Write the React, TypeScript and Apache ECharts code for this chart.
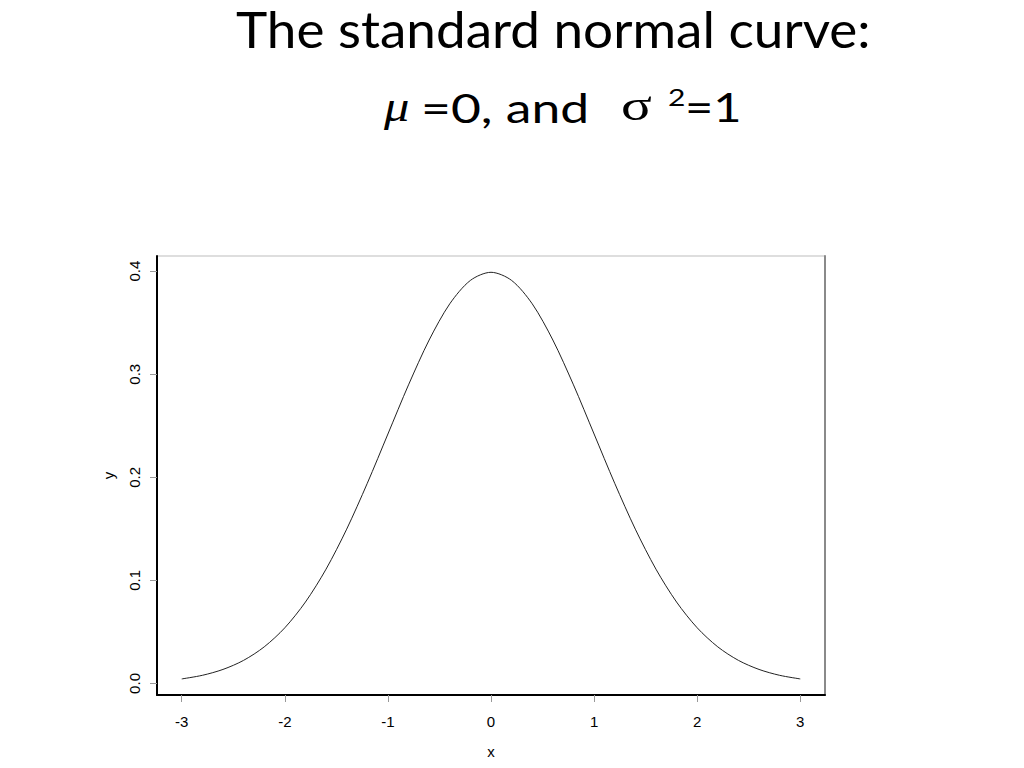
import React, { useEffect, useRef } from "react";
import * as echarts from "echarts";

const xValues = [-3, -2.8, -2.6, -2.4, -2.2, -2, -1.8, -1.6, -1.4, -1.2, -1, -0.8, -0.6, -0.4, -0.2, 0, 0.2, 0.4, 0.6, 0.8, 1, 1.2, 1.4, 1.6, 1.8, 2, 2.2, 2.4, 2.6, 2.8, 3];
const yValues = [0.0044, 0.0079, 0.0136, 0.0224, 0.0355, 0.054, 0.079, 0.1109, 0.1497, 0.1942, 0.242, 0.2897, 0.3332, 0.3683, 0.391, 0.3989, 0.391, 0.3683, 0.3332, 0.2897, 0.242, 0.1942, 0.1497, 0.1109, 0.079, 0.054, 0.0355, 0.0224, 0.0136, 0.0079, 0.0044];
const xTicks = [-3, -2, -1, 0, 1, 2, 3];
const yTicks = [0, 0.1, 0.2, 0.3, 0.4];

export default function App() {
  const ref = useRef<HTMLDivElement>(null);
  useEffect(() => {
    if (!ref.current) return;
    const chart = echarts.init(ref.current, null, { renderer: "svg" });
    const labelFont = "'Liberation Sans', Arial, sans-serif";
    const titleFont = "Lato, 'Open Sans', sans-serif";
    const serif = "'Liberation Serif', 'DejaVu Serif', serif";
    chart.setOption({
      animation: false,
      backgroundColor: "#ffffff",
      grid: {
        left: 157,
        right: 199,
        top: 256,
        bottom: 73,
        show: true,
        borderColor: "#bdbdbd",
        borderWidth: 1,
      },
      xAxis: {
        type: "value",
        min: -3.24,
        max: 3.24,
        name: "x",
        nameLocation: "middle",
        nameGap: 49,
        nameTextStyle: { fontFamily: labelFont, fontSize: 15, color: "#000" },
        axisLine: { show: true, onZero: false, lineStyle: { color: "#000", width: 2 } },
        axisTick: { show: true, length: 7, customValues: xTicks, lineStyle: { color: "#999", width: 1 } },
        axisLabel: {
          customValues: xTicks,
          margin: 19,
          fontFamily: labelFont,
          fontSize: 15,
          color: "#000",
          formatter: (v: number) => String(v),
        },
        splitLine: { show: false },
      },
      yAxis: [
        {
          type: "value",
          min: -0.0112,
          max: 0.4147,
          name: "y",
          nameLocation: "middle",
          nameGap: 41,
          nameTextStyle: { fontFamily: labelFont, fontSize: 15, color: "#000" },
          axisLine: { show: true, onZero: false, lineStyle: { color: "#000", width: 2 } },
          axisTick: { show: true, length: 7, customValues: yTicks, lineStyle: { color: "#999", width: 1 } },
          axisLabel: {
            customValues: yTicks,
            rotate: 90,
            margin: 15,
            fontFamily: labelFont,
            fontSize: 15,
            color: "#000",
            formatter: (v: number) => v.toFixed(1),
          },
          splitLine: { show: false },
        },
        {
          type: "value",
          position: "right",
          min: -0.0112,
          max: 0.4147,
          axisLine: { show: true, onZero: false, lineStyle: { color: "#8a8a8a", width: 2 } },
          axisTick: { show: false },
          axisLabel: { show: false },
          splitLine: { show: false },
        },
      ],
      series: [
        {
          type: "line",
          data: xValues.map((x, i) => [x, yValues[i]]),
          smooth: 0.3,
          showSymbol: false,
          lineStyle: { color: "#222", width: 1 },
        },
      ],
      graphic: [
        {
          type: "text",
          x: 236,
          y: 3,
          scaleX: 1.04,
          style: {
            text: "The standard normal curve:",
            fontFamily: titleFont,
            fontSize: 51,
            lineHeight: 51,
            fill: "#000",
            align: "left",
            verticalAlign: "top",
          },
        },
        {
          type: "text",
          x: 384,
          y: 106,
          scaleX: 1.15,
          style: { text: "μ", fontFamily: serif, fontStyle: "italic", fontSize: 44, fill: "#000", align: "left", verticalAlign: "middle" },
        },
        {
          type: "text",
          x: 421,
          y: 107,
          scaleX: 1.29,
          style: { text: "=0, and", fontFamily: titleFont, fontSize: 40, fill: "#000", align: "left", verticalAlign: "middle" },
        },
        {
          type: "text",
          x: 621,
          y: 105,
          scaleX: 1.3,
          style: { text: "σ", fontFamily: serif, fontSize: 44, fill: "#000", align: "left", verticalAlign: "middle" },
        },
        {
          type: "text",
          x: 668,
          y: 97,
          scaleX: 1.25,
          style: { text: "2", fontFamily: titleFont, fontSize: 24, fill: "#000", align: "left", verticalAlign: "middle" },
        },
        {
          type: "text",
          x: 685,
          y: 107,
          scaleX: 1.22,
          style: { text: "=1", fontFamily: titleFont, fontSize: 40, fill: "#000", align: "left", verticalAlign: "middle" },
        },
      ],
    });
    return () => chart.dispose();
  }, []);
  return <div ref={ref} style={{ width: 1024, height: 768, position: "absolute", left: 0, top: 0 }} />;
}
